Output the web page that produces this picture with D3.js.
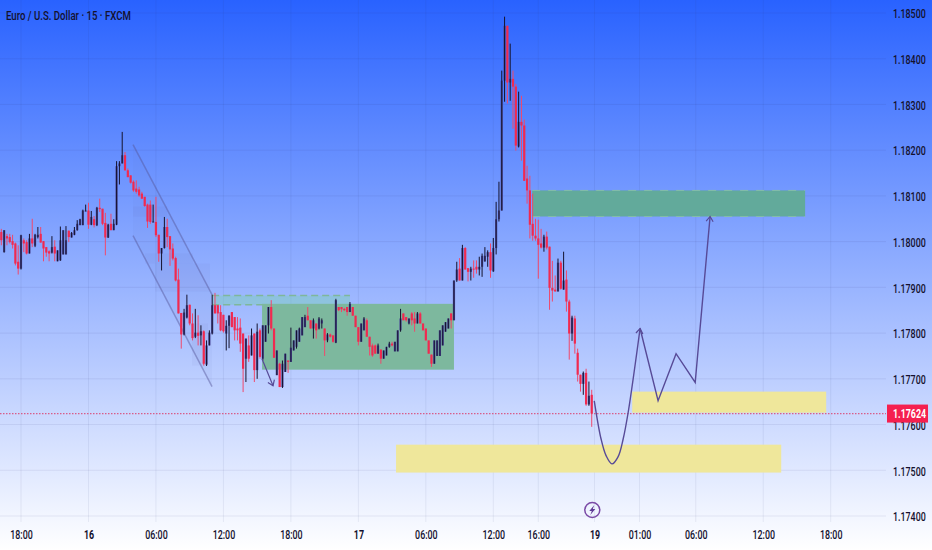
<!DOCTYPE html>
<html>
<head>
<meta charset="utf-8">
<script src="https://cdn.jsdelivr.net/npm/d3@7"></script>
<style>
  html, body { margin: 0; padding: 0; background: #fff; }
  svg { display: block; }
  text { font-family: Roboto, sans-serif; }
</style>
</head>
<body>
<div id="chart"></div>
<script>
// data: one 15 minute candle per entry
var opens = [
  1.18021,1.17977,1.18012,1.18010,1.18001,1.17996,1.17956,1.17941,1.18003,1.17999,
  1.17974,1.18007,1.17991,1.18010,1.18017,1.18001,1.17988,1.17979,1.17976,1.17989,
  1.17957,1.17959,1.17972,1.17972,1.18024,1.18009,1.18015,1.18025,1.18036,1.18036,
  1.18066,1.18068,1.18037,1.18049,1.18036,1.18074,1.18072,1.18041,1.18009,1.18039,
  1.18025,1.18037,1.18165,1.18171,1.18189,1.18156,1.18145,1.18131,1.18116,1.18114,
  1.18105,1.18098,1.18081,1.18081,1.18043,1.18043,1.18015,1.17974,1.17986,1.18032,
  1.18012,1.17985,1.17964,1.17917,1.17844,1.17797,1.17834,1.17862,1.17821,1.17792,
  1.17801,1.17795,1.17804,1.17731,1.17773,1.17799,1.17861,1.17861,1.17846,1.17840,
  1.17799,1.17816,1.17846,1.17835,1.17810,1.17812,1.17799,1.17744,1.17773,1.17751,
  1.17799,1.17719,1.17806,1.17744,1.17781,1.17817,1.17857,1.17810,1.17708,1.17733,
  1.17682,1.17715,1.17740,1.17737,1.17762,1.17770,1.17781,1.17795,1.17813,1.17838,
  1.17828,1.17810,1.17821,1.17810,1.17821,1.17810,1.17784,1.17797,1.17795,1.17779,
  1.17857,1.17857,1.17853,1.17857,1.17846,1.17857,1.17838,1.17813,1.17781,1.17806,
  1.17828,1.17792,1.17773,1.17773,1.17755,1.17764,1.17744,1.17751,1.17770,1.17777,
  1.17760,1.17760,1.17806,1.17843,1.17835,1.17821,1.17843,1.17832,1.17821,1.17843,
  1.17821,1.17810,1.17784,1.17753,1.17733,1.17750,1.17750,1.17773,1.17803,1.17810,
  1.17843,1.17828,1.17915,1.17941,1.17915,1.17986,1.17942,1.17934,1.17941,1.17945,
  1.17939,1.17945,1.17957,1.17967,1.17977,1.17935,1.17986,1.18049,1.18068,1.18352,
  1.18472,1.18348,1.18356,1.18339,1.18208,1.18262,1.18254,1.18138,1.18112,1.18039,
  1.18013,1.18007,1.17996,1.17987,1.18011,1.17989,1.17899,1.17895,1.17891,1.17954,
  1.17895,1.17917,1.17869,1.17799,1.17832,1.17757,1.17709,1.17689,1.17713,1.17644,1.17665
];
var closes = [
  1.18003,1.18025,1.18007,1.17999,1.17993,1.17952,1.17941,1.18014,1.17996,1.17974,
  1.18007,1.17996,1.18015,1.18015,1.17998,1.17985,1.17976,1.17974,1.17988,1.17974,
  1.17981,1.18003,1.18025,1.18003,1.18010,1.18019,1.18025,1.18039,1.18049,1.18068,
  1.18068,1.18037,1.18054,1.18036,1.18074,1.18071,1.18039,1.18009,1.18037,1.18025,
  1.18039,1.18165,1.18171,1.18189,1.18156,1.18141,1.18129,1.18112,1.18109,1.18101,
  1.18094,1.18078,1.18044,1.18043,1.18044,1.18014,1.17974,1.17986,1.18032,1.18010,
  1.17983,1.17963,1.17915,1.17843,1.17797,1.17845,1.17861,1.17821,1.17789,1.17801,
  1.17794,1.17804,1.17733,1.17773,1.17801,1.17861,1.17843,1.17843,1.17806,1.17804,
  1.17816,1.17838,1.17813,1.17806,1.17806,1.17777,1.17722,1.17788,1.17744,1.17795,
  1.17719,1.17803,1.17748,1.17817,1.17817,1.17857,1.17810,1.17746,1.17762,1.17682,
  1.17733,1.17755,1.17737,1.17768,1.17784,1.17806,1.17810,1.17835,1.17835,1.17828,
  1.17810,1.17828,1.17806,1.17832,1.17828,1.17784,1.17797,1.17792,1.17781,1.17872,
  1.17850,1.17852,1.17850,1.17846,1.17864,1.17838,1.17813,1.17781,1.17821,1.17832,
  1.17792,1.17770,1.17751,1.17755,1.17773,1.17744,1.17762,1.17770,1.17777,1.17773,
  1.17781,1.17806,1.17832,1.17828,1.17828,1.17832,1.17828,1.17821,1.17843,1.17821,
  1.17806,1.17784,1.17755,1.17733,1.17784,1.17784,1.17806,1.17817,1.17824,1.17832,
  1.17828,1.17915,1.17939,1.17915,1.17986,1.17939,1.17934,1.17941,1.17939,1.17939,
  1.17945,1.17969,1.17969,1.17977,1.17937,1.17986,1.18049,1.18068,1.18352,1.18472,
  1.18348,1.18356,1.18339,1.18210,1.18262,1.18254,1.18133,1.18112,1.18037,1.18013,
  1.18007,1.17993,1.17987,1.18011,1.17987,1.17899,1.17893,1.17891,1.17954,1.17897,
  1.17915,1.17869,1.17799,1.17834,1.17777,1.17709,1.17689,1.17713,1.17644,1.17663,1.17624
];
var highs = [
  1.18028,1.18025,1.18017,1.18017,1.18015,1.17998,1.17992,1.18015,1.18007,1.18003,
  1.18017,1.18050,1.18017,1.18032,1.18032,1.18001,1.17988,1.17981,1.18012,1.18003,
  1.17981,1.18033,1.18025,1.18034,1.18024,1.18021,1.18032,1.18047,1.18050,1.18070,
  1.18081,1.18085,1.18067,1.18056,1.18076,1.18094,1.18072,1.18063,1.18039,1.18061,
  1.18049,1.18176,1.18176,1.18240,1.18196,1.18160,1.18145,1.18134,1.18134,1.18120,
  1.18109,1.18098,1.18083,1.18090,1.18081,1.18098,1.18015,1.17986,1.18054,1.18050,
  1.18012,1.17996,1.17967,1.17941,1.17844,1.17853,1.17884,1.17862,1.17843,1.17853,
  1.17839,1.17817,1.17806,1.17784,1.17806,1.17884,1.17888,1.17861,1.17861,1.17840,
  1.17828,1.17839,1.17846,1.17835,1.17835,1.17832,1.17799,1.17788,1.17795,1.17810,
  1.17799,1.17821,1.17810,1.17817,1.17817,1.17857,1.17872,1.17810,1.17762,1.17735,
  1.17740,1.17755,1.17740,1.17812,1.17784,1.17806,1.17812,1.17835,1.17840,1.17857,
  1.17828,1.17832,1.17821,1.17835,1.17832,1.17810,1.17800,1.17799,1.17795,1.17875,
  1.17857,1.17857,1.17855,1.17857,1.17868,1.17857,1.17838,1.17813,1.17821,1.17835,
  1.17832,1.17792,1.17777,1.17775,1.17777,1.17764,1.17762,1.17770,1.17781,1.17781,
  1.17781,1.17806,1.17853,1.17843,1.17835,1.17832,1.17846,1.17846,1.17846,1.17846,
  1.17821,1.17810,1.17784,1.17753,1.17784,1.17784,1.17806,1.17817,1.17824,1.17832,
  1.17843,1.17915,1.17956,1.17964,1.17993,1.17988,1.17942,1.17945,1.17959,1.17959,
  1.17967,1.17974,1.17988,1.17981,1.17996,1.18008,1.18087,1.18131,1.18374,1.18492,
  1.18472,1.18433,1.18374,1.18345,1.18328,1.18319,1.18267,1.18166,1.18144,1.18105,
  1.18050,1.18048,1.18028,1.18015,1.18022,1.17989,1.17958,1.17926,1.17963,1.17958,
  1.17978,1.17937,1.17873,1.17838,1.17838,1.17766,1.17709,1.17716,1.17722,1.17694,1.17676
];
var lows = [
  1.17992,1.17976,1.17992,1.17996,1.17985,1.17948,1.17928,1.17939,1.17977,1.17972,
  1.17974,1.17988,1.17988,1.18007,1.17998,1.17957,1.17967,1.17957,1.17974,1.17957,
  1.17957,1.17958,1.17972,1.17972,1.17999,1.18009,1.18014,1.18024,1.18036,1.18036,
  1.18066,1.18028,1.18036,1.18031,1.18034,1.18065,1.18036,1.17970,1.18008,1.18025,
  1.18025,1.18036,1.18125,1.18171,1.18155,1.18141,1.18127,1.18109,1.18105,1.18098,
  1.18093,1.18076,1.18030,1.18039,1.18042,1.18010,1.17956,1.17937,1.17985,1.17988,
  1.17947,1.17959,1.17913,1.17843,1.17766,1.17795,1.17832,1.17817,1.17784,1.17789,
  1.17773,1.17773,1.17729,1.17728,1.17773,1.17797,1.17843,1.17821,1.17804,1.17801,
  1.17762,1.17767,1.17813,1.17784,1.17784,1.17759,1.17671,1.17693,1.17737,1.17751,
  1.17693,1.17700,1.17744,1.17740,1.17781,1.17799,1.17806,1.17746,1.17708,1.17682,
  1.17680,1.17715,1.17713,1.17737,1.17762,1.17766,1.17781,1.17795,1.17813,1.17828,
  1.17810,1.17788,1.17788,1.17808,1.17810,1.17750,1.17780,1.17790,1.17779,1.17778,
  1.17848,1.17846,1.17848,1.17838,1.17846,1.17838,1.17813,1.17773,1.17781,1.17806,
  1.17792,1.17751,1.17748,1.17755,1.17755,1.17733,1.17744,1.17751,1.17768,1.17771,
  1.17760,1.17760,1.17803,1.17828,1.17825,1.17819,1.17817,1.17803,1.17821,1.17821,
  1.17806,1.17784,1.17755,1.17726,1.17733,1.17750,1.17750,1.17773,1.17803,1.17810,
  1.17810,1.17828,1.17912,1.17915,1.17915,1.17939,1.17913,1.17915,1.17921,1.17930,
  1.17926,1.17923,1.17956,1.17945,1.17921,1.17934,1.17972,1.18044,1.18068,1.18306,
  1.18302,1.18308,1.18247,1.18199,1.18206,1.18177,1.18133,1.18083,1.18007,1.18002,
  1.18002,1.17919,1.17985,1.17978,1.17983,1.17851,1.17869,1.17891,1.17891,1.17895,
  1.17895,1.17847,1.17742,1.17783,1.17755,1.17694,1.17672,1.17665,1.17641,1.17641,1.17595
];

var priceTicks = [1.185, 1.184, 1.183, 1.182, 1.181, 1.18, 1.179, 1.178, 1.177, 1.176, 1.175, 1.174];
var timeTickBars = [7, 31, 55, 79, 103, 127, 151, 175, 191, 211, 227, 247, 271, 295];
var timeTickLabels = ['18:00', '16', '06:00', '12:00', '18:00', '17', '06:00', '12:00', '16:00', '19', '01:00', '06:00', '12:00', '18:00'];
var lastPrice = 1.17624;
var titleText = 'Euro / U.S. Dollar · 15 · FXCM';

// drawings on the chart, as [bar, price] anchors
var channelTop = [[46.85, 1.18212], [74.95, 1.17884]];
var channelBottom = [[46.85, 1.18013], [74.95, 1.17683]];
var channelBands = [
  [46.85, 59, 1.18077, 1.18055],
  [51.1, 68.2, 1.17974, 1.17952],
  [54.7, 74.2, 1.17952, 1.17891],
  [67.8, 73.5, 1.17821, 1.17729]
];
var greenBoxA = [92.74, 161, 1.17864, 1.1772];
var dashedBox = [75, 124, 1.17882, 1.17862];
var greenBoxB = [188.8, 285.9, 1.18112, 1.18055];
var yellowBoxA = [224.4, 293.4, 1.17672, 1.17626];
var yellowBoxB = [140.4, 277.4, 1.17556, 1.17495];
var smallArrow = [[92.7, 1.17744], [96.65, 1.17685]];
var curveLeg = [[210.9, 1.17652], [213.3, 1.17569], [215.1, 1.17532], [217.2, 1.17514], [219.4, 1.1753], [221.2, 1.17569], [223, 1.17628], [227.2, 1.1781]];
var zigzagLeg = [[227.2, 1.1781], [233.6, 1.17652], [240, 1.17755], [246.8, 1.17692], [252.1, 1.18055]];
var eventBar = 210.2;

// dimensions
var dimensions = {
  width: 932,
  height: 550,
  plotRight: 886,
  plotBottom: 522
};

var svg = d3.select('#chart')
  .append('svg')
  .attr('width', dimensions.width)
  .attr('height', dimensions.height);

var defs = svg.append('defs');

var gradient = defs.append('linearGradient')
  .attr('id', 'bg')
  .attr('x1', 0).attr('y1', 0)
  .attr('x2', 0).attr('y2', 1);
gradient.append('stop').attr('offset', '0%').attr('stop-color', '#2962ff');
gradient.append('stop').attr('offset', '100%').attr('stop-color', '#ffffff');

defs.append('marker')
  .attr('id', 'arrow')
  .attr('viewBox', '-8 -6 10 12')
  .attr('markerUnits', 'userSpaceOnUse')
  .attr('markerWidth', 10)
  .attr('markerHeight', 12)
  .attr('refX', 0)
  .attr('refY', 0)
  .attr('orient', 'auto')
  .append('path')
  .attr('d', 'M-5,-3.5L0,0L-5,3.5')
  .attr('fill', 'none')
  .attr('stroke', '#574a97')
  .attr('stroke-width', 1.2);

svg.append('rect')
  .attr('width', dimensions.width)
  .attr('height', dimensions.height)
  .attr('fill', 'url(#bg)');

// scales
var xScale = d3.scaleLinear()
  .domain([7, 295])
  .range([21, 830.7]);

var yScale = d3.scaleLinear()
  .domain([1.185, 1.174])
  .range([13, 516]);

// grid
var grid = svg.append('g');

grid.selectAll('.h')
  .data(priceTicks)
  .join('line')
  .attr('x1', 0)
  .attr('x2', dimensions.plotRight)
  .attr('y1', d => yScale(d))
  .attr('y2', d => yScale(d))
  .attr('stroke', 'rgba(50,60,120,0.09)');

grid.selectAll('.v')
  .data(timeTickBars)
  .join('line')
  .attr('x1', d => xScale(d))
  .attr('x2', d => xScale(d))
  .attr('y1', 0)
  .attr('y2', dimensions.plotBottom)
  .attr('stroke', 'rgba(50,60,120,0.08)');

// drawings under the candles
function box(b, fill) {
  return svg.append('rect')
    .attr('x', xScale(b[0]))
    .attr('y', yScale(b[2]))
    .attr('width', xScale(b[1]) - xScale(b[0]))
    .attr('height', yScale(b[3]) - yScale(b[2]))
    .attr('fill', fill);
}

var channelArea = d3.area()
  .x(d => xScale(d[0]))
  .y0(d => yScale(d[1]))
  .y1(d => yScale(d[2]));

svg.append('path')
  .attr('d', channelArea([
    [channelTop[0][0], channelTop[0][1], channelBottom[0][1]],
    [channelTop[1][0], channelTop[1][1], channelBottom[1][1]]
  ]))
  .attr('fill', 'rgba(110,120,190,0.06)');

channelBands.forEach(b => box(b, 'rgba(95,100,170,0.06)'));

var straight = d3.line()
  .x(d => xScale(d[0]))
  .y(d => yScale(d[1]));

[channelTop, channelBottom].forEach(function(l) {
  svg.append('path')
    .attr('d', straight(l))
    .attr('fill', 'none')
    .attr('stroke', 'rgba(85,85,150,0.45)')
    .attr('stroke-width', 1.5);
});

box(dashedBox, 'rgba(125,205,190,0.5)');
[dashedBox[2], dashedBox[3]].forEach(function(p) {
  svg.append('line')
    .attr('x1', xScale(dashedBox[0]))
    .attr('x2', xScale(dashedBox[1]))
    .attr('y1', yScale(p))
    .attr('y2', yScale(p))
    .attr('stroke', '#7fb79a')
    .attr('stroke-width', 1.5)
    .attr('stroke-dasharray', '7,4');
});

box(greenBoxA, '#7db89e');
box(greenBoxB, '#62aa9b');
[greenBoxB[2], greenBoxB[3]].forEach(function(p) {
  svg.append('line')
    .attr('x1', xScale(greenBoxB[0]))
    .attr('x2', xScale(greenBoxB[1]))
    .attr('y1', yScale(p))
    .attr('y2', yScale(p))
    .attr('stroke', '#84bda8')
    .attr('stroke-width', 1)
    .attr('stroke-dasharray', '8,8');
});
box(yellowBoxA, '#efe79b');
box(yellowBoxB, '#efe79b');

// last price line
svg.append('line')
  .attr('x1', 0)
  .attr('x2', dimensions.plotRight)
  .attr('y1', yScale(lastPrice))
  .attr('y2', yScale(lastPrice))
  .attr('stroke', '#d9507c')
  .attr('stroke-opacity', 0.9)
  .attr('stroke-width', 1.2)
  .attr('stroke-dasharray', '1.5,1.5');

// candles
var bars = d3.range(opens.length);
var candles = svg.append('g');

candles.selectAll('.wick-red')
  .data(bars.filter(i => closes[i] < opens[i]))
  .join('line')
  .attr('x1', i => xScale(i))
  .attr('x2', i => xScale(i))
  .attr('y1', i => yScale(highs[i]))
  .attr('y2', i => yScale(lows[i]))
  .attr('stroke', '#f0486c')
  .attr('stroke-width', 1);

candles.selectAll('.body')
  .data(bars)
  .join('rect')
  .attr('x', i => xScale(i) - 1.1)
  .attr('width', 2.2)
  .attr('y', i => yScale(Math.max(opens[i], closes[i])))
  .attr('height', i => Math.max(1, Math.abs(yScale(opens[i]) - yScale(closes[i]))))
  .attr('fill', i => closes[i] < opens[i] ? '#f02a50' : '#4a4795');

candles.selectAll('.wick-up')
  .data(bars.filter(i => closes[i] >= opens[i]))
  .join('line')
  .attr('x1', i => xScale(i))
  .attr('x2', i => xScale(i))
  .attr('y1', i => yScale(highs[i]))
  .attr('y2', i => yScale(lows[i]))
  .attr('stroke', '#15132e')
  .attr('stroke-width', 1);

// arrows
svg.append('path')
  .attr('d', straight(smallArrow))
  .attr('fill', 'none')
  .attr('stroke', '#574a97')
  .attr('stroke-width', 1.2)
  .attr('marker-end', 'url(#arrow)');

svg.append('path')
  .attr('d', d3.line().x(d => xScale(d[0])).y(d => yScale(d[1])).curve(d3.curveCatmullRom)(curveLeg))
  .attr('fill', 'none')
  .attr('stroke', '#574a97')
  .attr('stroke-width', 1.4)
  .attr('marker-end', 'url(#arrow)');

svg.append('path')
  .attr('d', straight(zigzagLeg))
  .attr('fill', 'none')
  .attr('stroke', '#574a97')
  .attr('stroke-width', 1.4)
  .attr('marker-end', 'url(#arrow)');

// axes
var labelColor = '#14112e';

var yAxis = d3.axisRight(yScale)
  .tickValues(priceTicks)
  .tickSize(0)
  .tickPadding(0)
  .tickFormat(d3.format('.5f'));

var yAxisGroup = svg.append('g')
  .attr('transform', 'translate(893,0)')
  .call(yAxis);
yAxisGroup.select('.domain').remove();
yAxisGroup.selectAll('text')
  .attr('font-size', 12)
  .attr('font-weight', 500)
  .attr('fill', labelColor)
  .attr('font-family', 'Roboto, sans-serif')
  .attr('dy', '0.4em')
  .attr('transform', 'scale(0.74,1)');

var xAxis = d3.axisBottom(xScale)
  .tickValues(timeTickBars)
  .tickSize(0)
  .tickPadding(0)
  .tickFormat((d, i) => timeTickLabels[i]);

var xAxisGroup = svg.append('g')
  .attr('transform', 'translate(0,530)')
  .call(xAxis);
xAxisGroup.select('.domain').remove();
xAxisGroup.selectAll('text')
  .attr('font-size', 12)
  .attr('font-weight', (d, i) => timeTickLabels[i].length === 2 ? 700 : 500)
  .attr('fill', labelColor)
  .attr('font-family', 'Roboto, sans-serif')
  .attr('transform', 'scale(0.74,1)');

// last price label
svg.append('rect')
  .attr('x', 887)
  .attr('y', yScale(lastPrice) - 9)
  .attr('width', 41)
  .attr('height', 18)
  .attr('fill', '#f5204f');

svg.append('text')
  .attr('transform', 'translate(893,' + yScale(lastPrice) + ') scale(0.74,1)')
  .attr('dy', '0.38em')
  .attr('font-size', 12)
  .attr('font-weight', 700)
  .attr('fill', '#fff')
  .text(d3.format('.5f')(lastPrice));

// title
svg.append('text')
  .attr('transform', 'translate(6,20) scale(0.77,1)')
  .attr('font-size', 12.5)
  .attr('font-weight', 500)
  .attr('fill', labelColor)
  .text(titleText);

// lightning marker
var marker = svg.append('g')
  .attr('transform', 'translate(' + xScale(eventBar) + ',510)');

marker.append('circle')
  .attr('r', 7.5)
  .attr('fill', 'none')
  .attr('stroke', '#7a4aa6')
  .attr('stroke-width', 1.5);

marker.append('path')
  .attr('d', 'M2,-5L-3,1L-0.5,1L-2,5L3,-1L0.5,-1Z')
  .attr('fill', '#5f3a95');
</script>
</body>
</html>
